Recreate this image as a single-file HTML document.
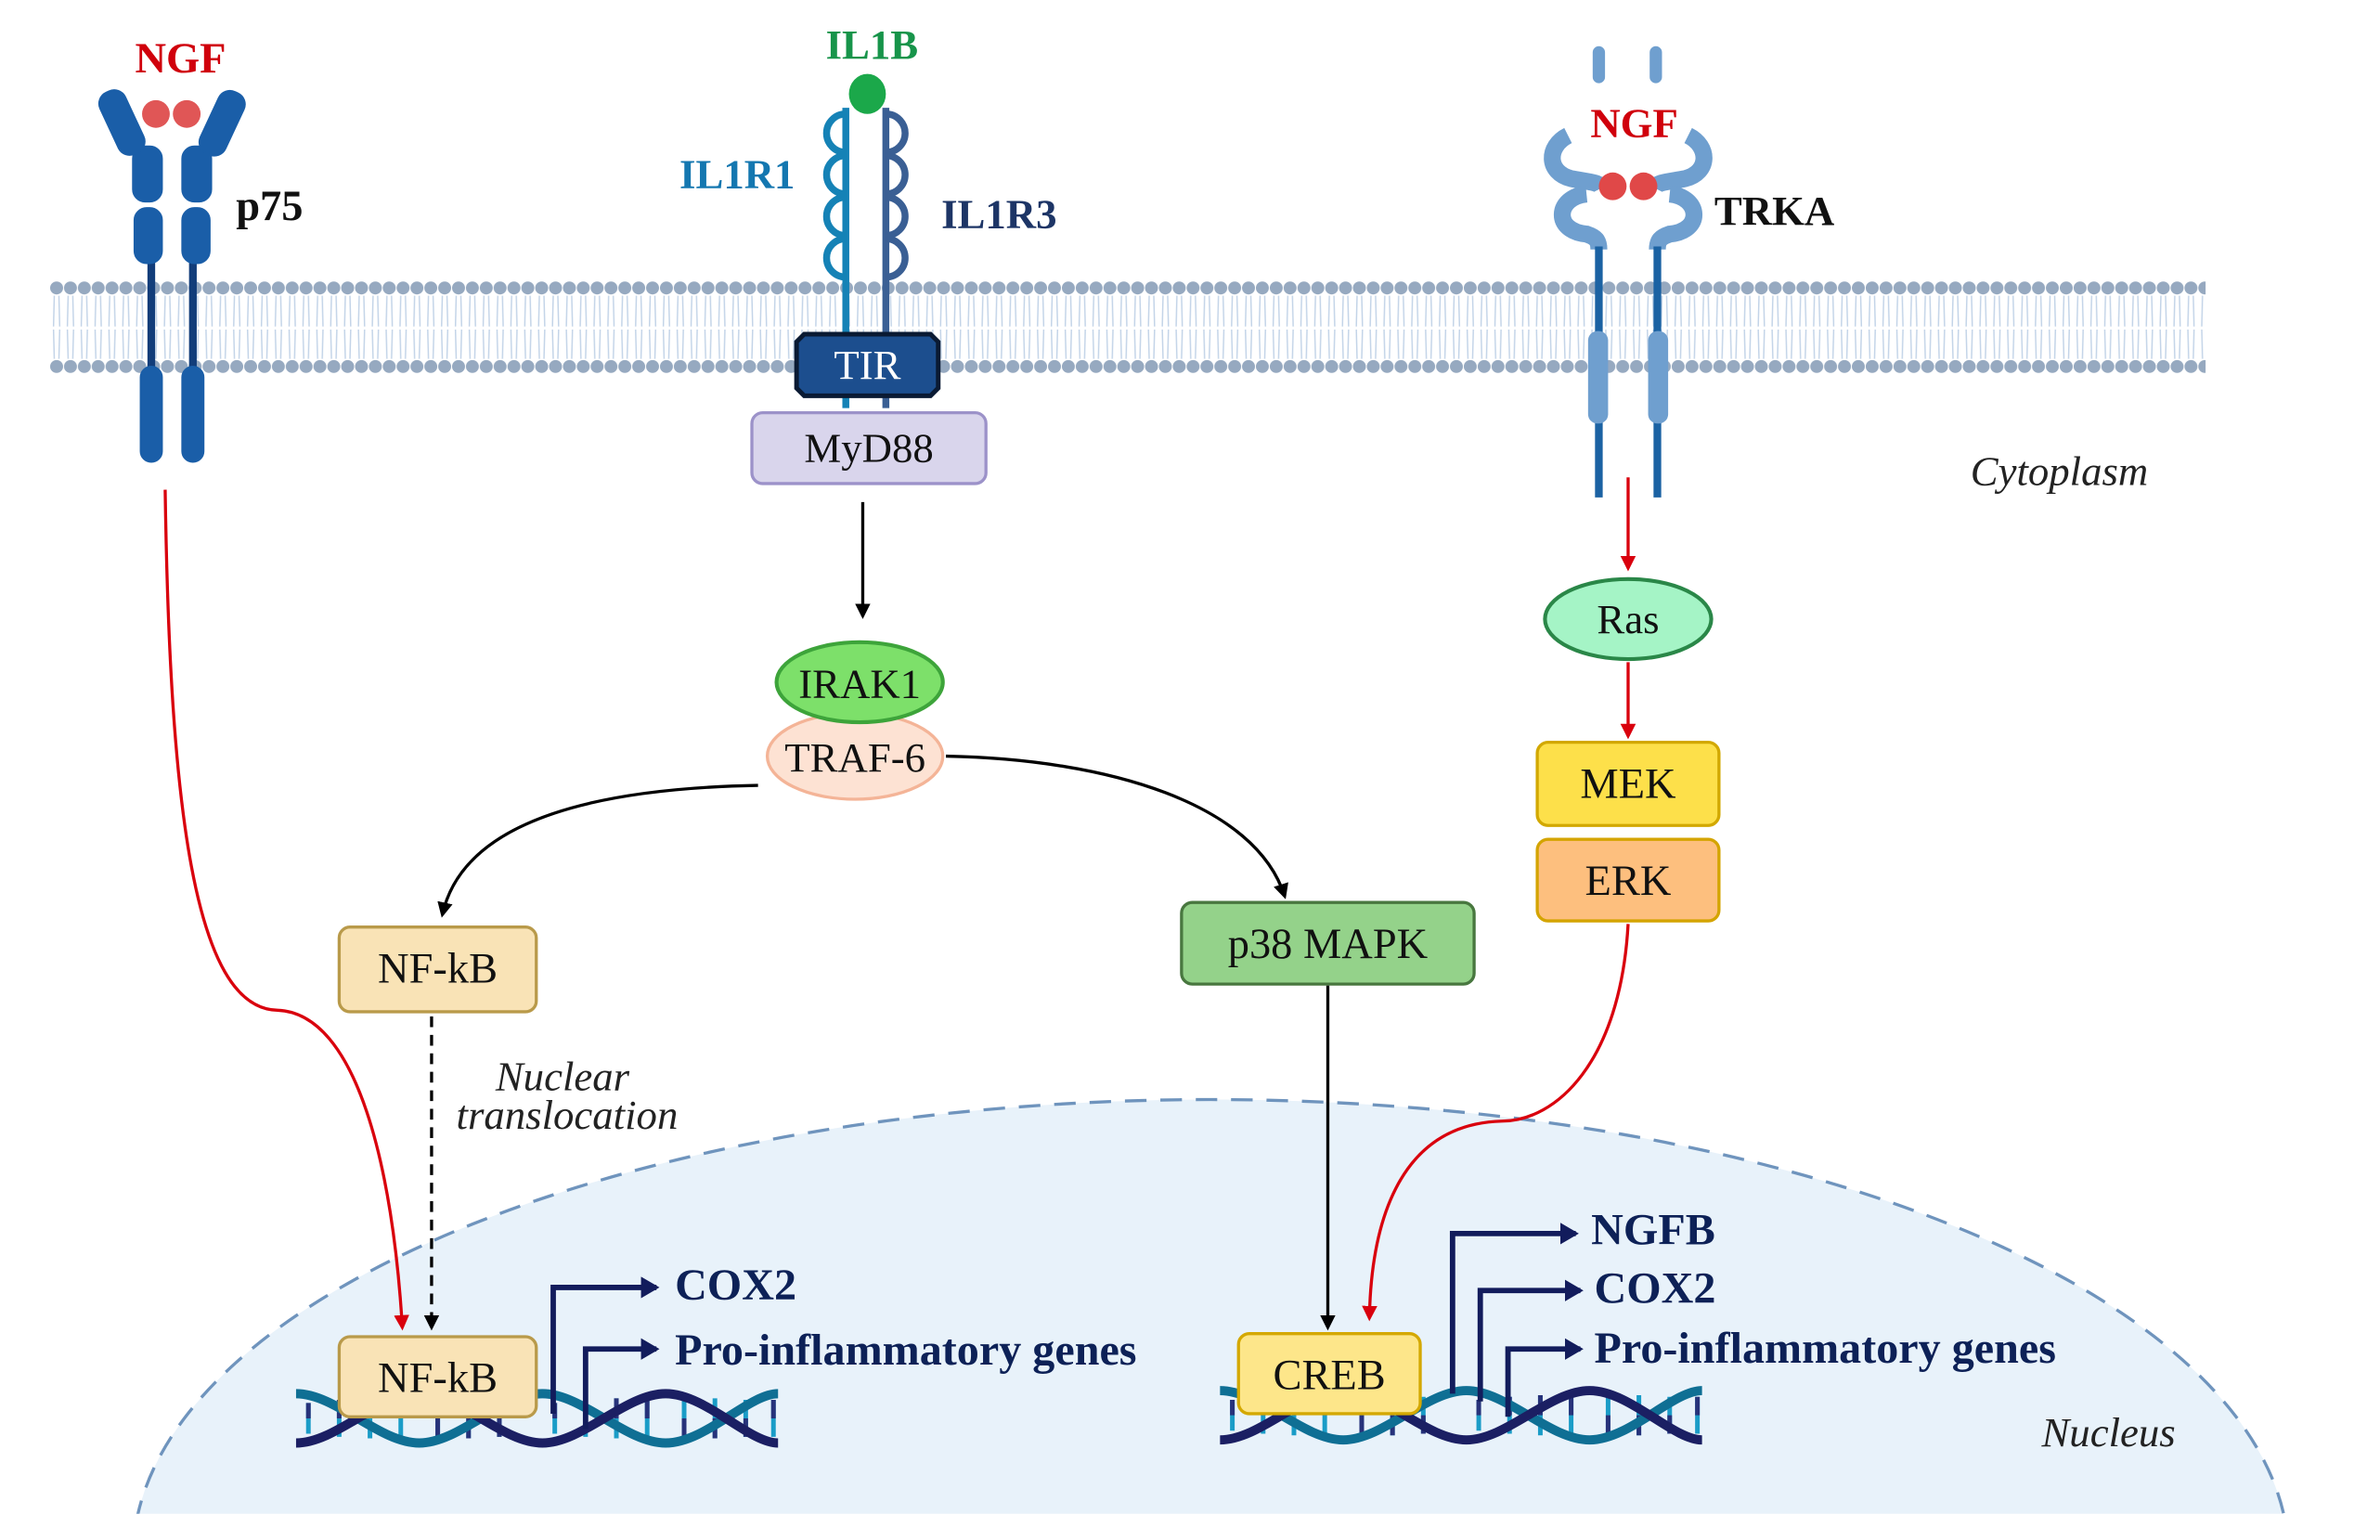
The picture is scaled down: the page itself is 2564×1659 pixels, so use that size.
<!DOCTYPE html>
<html><head><meta charset="utf-8">
<style>
html,body{margin:0;padding:0;background:#fff;width:2564px;height:1659px;overflow:hidden;}
svg{display:block;}
text{font-family:"Liberation Serif",serif;}
</style></head>
<body>
<svg width="2564" height="1659" viewBox="0 0 1545 1000" xmlns="http://www.w3.org/2000/svg">
<defs>
  <pattern id="lip" x="32" y="0" width="9" height="1000" patternUnits="userSpaceOnUse">
    <circle cx="4.5" cy="187" r="4.2" fill="#96a9c0"/>
    <circle cx="4.5" cy="238" r="4.2" fill="#96a9c0"/>
    <path d="M3,192 L2.5,212 M6,192 L6.5,212 M3,233 L2.5,214 M6,233 L6.5,214" stroke="#c3d4e8" stroke-width="0.9" fill="none"/>
  </pattern>
  <marker id="ab" markerWidth="10" markerHeight="10" refX="8" refY="5" orient="auto" markerUnits="userSpaceOnUse"><path d="M0,0 L10,5 L0,10 Z" fill="#000"/></marker>
  <marker id="ar" markerWidth="10" markerHeight="10" refX="8" refY="5" orient="auto" markerUnits="userSpaceOnUse"><path d="M0,0 L10,5 L0,10 Z" fill="#d9000d"/></marker>
  <marker id="an" markerWidth="12" markerHeight="14" refX="10" refY="7" orient="auto" markerUnits="userSpaceOnUse"><path d="M0,0 L12,7 L0,14 Z" fill="#121c5c"/></marker>
  <clipPath id="nc"><rect x="0" y="0" width="1545" height="983"/></clipPath>
  <g id="dna">
    <g stroke-width="3">
      <path d="M8,-10 V10 M28,-12 V12 M48,-13 V13 M68,-12 V12 M92,-12 V12 M112,-13 V13 M132,-12 V12 M168,-10 V10 M188,-12 V12 M208,-13 V13 M228,-12 V12 M252,-12 V12 M272,-13 V13 M292,-12 V12 M310,-12 V12" stroke="#1a9cc7"/>
      <path d="M8,-10 V0 M28,-12 V0 M48,-13 V0 M68,-12 V0 M92,0 V12 M112,0 V13 M132,0 V12 M168,-10 V0 M188,-12 V0 M208,-13 V0 M228,-12 V0 M252,0 V12 M272,0 V13 M292,0 V12 M310,-12 V0" stroke="#27327a"/>
    </g>
    <path d="M0,-16 C26,-16 54,16 80,16 C106,16 134,-16 160,-16 C186,-16 214,16 240,16 C266,16 294,-16 313,-16" stroke="#0f6f94" stroke-width="6" fill="none"/>
    <path d="M0,16 C26,16 54,-16 80,-16 C106,-16 134,16 160,16 C186,16 214,-16 240,-16 C266,-16 294,16 313,16" stroke="#1b1f63" stroke-width="6" fill="none"/>
  </g>
</defs>

<!-- Nucleus -->
<g clip-path="url(#nc)">
  <ellipse cx="786" cy="1012" rx="700" ry="298" fill="#e8f2fa" stroke="#6f94bd" stroke-width="2" stroke-dasharray="14,9"/>
</g>

<!-- Membrane -->
<rect x="32" y="180" width="1400" height="64" fill="url(#lip)"/>

<!-- p75 -->
<g fill="#1a5ea8" stroke="#1a5ea8">
  <line x1="98" y1="140" x2="98" y2="298" stroke="#123d7a" stroke-width="5"/>
  <line x1="125" y1="140" x2="125" y2="298" stroke="#123d7a" stroke-width="5"/>
  <rect x="91" y="238" width="14" height="62" rx="7"/>
  <rect x="118" y="238" width="14" height="62" rx="7"/>
  <rect x="86" y="95" width="19" height="36" rx="8"/>
  <rect x="118" y="95" width="19" height="36" rx="8"/>
  <rect x="87" y="135" width="18" height="36" rx="8"/>
  <rect x="118" y="135" width="18" height="36" rx="8"/>
  <rect x="70" y="58" width="18" height="44" rx="8" transform="rotate(-25 78 80)"/>
  <rect x="135" y="58" width="18" height="44" rx="8" transform="rotate(25 144 80)"/>
</g>
<circle cx="101" cy="74" r="9" fill="#e05656"/><circle cx="121" cy="74" r="9" fill="#e05656"/>
<text x="117" y="47" font-size="28" font-weight="bold" fill="#d0000c" text-anchor="middle">NGF</text>
<text x="153" y="143" font-size="28" font-weight="bold" fill="#111">p75</text>

<!-- IL1 receptors -->
<g fill="none" stroke-width="4.5">
  <path d="M549,70 V265" stroke="#1582b6"/>
  <path d="M549,74 a12.5,12.5 0 1 0 0,25 M549,101 a12.5,12.5 0 1 0 0,25 M549,128 a12.5,12.5 0 1 0 0,25 M549,155 a12.5,12.5 0 1 0 0,25" stroke="#1582b6"/>
  <path d="M575,70 V265" stroke="#3a5f94"/>
  <path d="M575,74 a12.5,12.5 0 1 1 0,25 M575,101 a12.5,12.5 0 1 1 0,25 M575,128 a12.5,12.5 0 1 1 0,25 M575,155 a12.5,12.5 0 1 1 0,25" stroke="#3a5f94"/>
</g>
<ellipse cx="563" cy="61" rx="12" ry="13" fill="#1ba84a"/>
<text x="566" y="38" font-size="27" font-weight="bold" fill="#17944a" text-anchor="middle">IL1B</text>
<text x="516" y="122" font-size="27" font-weight="bold" fill="#1477b0" text-anchor="end">IL1R1</text>
<text x="611" y="148" font-size="27" font-weight="bold" fill="#1d3566">IL1R3</text>
<path d="M522,217 H604 L609,222 V252 L604,257 H522 L517,252 V222 Z" fill="#1c4e8e" stroke="#0a1a33" stroke-width="3"/>
<text x="563" y="246" font-size="27" fill="#fff" text-anchor="middle">TIR</text>
<rect x="488" y="268" width="152" height="46" rx="7" fill="#d9d5ec" stroke="#9c92c9" stroke-width="2"/>
<text x="564" y="300" font-size="27" fill="#111" text-anchor="middle">MyD88</text>
<line x1="560" y1="326" x2="560" y2="400" stroke="#000" stroke-width="2" marker-end="url(#ab)"/>

<ellipse cx="555" cy="491" rx="57" ry="28" fill="#fde2d3" stroke="#f4b497" stroke-width="2"/>
<ellipse cx="558" cy="443" rx="54" ry="26" fill="#7de06a" stroke="#3da43a" stroke-width="2.5"/>
<text x="558" y="453" font-size="27" fill="#111" text-anchor="middle">IRAK1</text>
<text x="555" y="501" font-size="27" fill="#111" text-anchor="middle">TRAF-6</text>

<path d="M492,510 C380,512 300,535 287,594" fill="none" stroke="#000" stroke-width="2" marker-end="url(#ab)"/>
<path d="M614,491 C720,493 815,522 834,582" fill="none" stroke="#000" stroke-width="2" marker-end="url(#ab)"/>

<rect x="220" y="602" width="128" height="55" rx="7" fill="#f9e3b6" stroke="#b99a4a" stroke-width="2"/>
<text x="284" y="638" font-size="28" fill="#111" text-anchor="middle">NF-kB</text>
<rect x="767" y="586" width="190" height="53" rx="7" fill="#94d28a" stroke="#48773f" stroke-width="2"/>
<text x="862" y="622" font-size="28" fill="#111" text-anchor="middle">p38 MAPK</text>

<line x1="280" y1="660" x2="280" y2="862" stroke="#000" stroke-width="2" stroke-dasharray="7,5" marker-end="url(#ab)"/>
<text x="365" y="708" font-size="27" font-style="italic" fill="#222" text-anchor="middle">Nuclear</text>
<text x="368" y="733" font-size="27" font-style="italic" fill="#222" text-anchor="middle">translocation</text>

<path d="M107,318 C110,520 125,655 180,656 C232,658 255,760 261,862" fill="none" stroke="#d9000d" stroke-width="2" marker-end="url(#ar)"/>

<!-- TRKA -->
<g fill="#6f9fcf">
  <rect x="1034" y="30" width="8" height="24" rx="4"/><rect x="1071" y="30" width="8" height="24" rx="4"/>
</g>
<g fill="none" stroke="#6f9fcf" stroke-width="11">
  <path d="M1018,88 C1004,95 1004,112 1020,116 C1030,118 1038,118 1040,122"/>
  <path d="M1096,88 C1110,95 1110,112 1094,116 C1084,118 1076,118 1074,122"/>
  <path d="M1030,126 C1010,128 1008,150 1030,152 C1036,154 1038,156 1038,162"/>
  <path d="M1084,126 C1104,128 1106,150 1084,152 C1078,154 1076,156 1076,162"/>
</g>
<line x1="1038" y1="160" x2="1038" y2="323" stroke="#1b62a3" stroke-width="5"/>
<line x1="1076" y1="160" x2="1076" y2="323" stroke="#1b62a3" stroke-width="5"/>
<rect x="1031" y="215" width="13" height="60" rx="6" fill="#6f9fcf"/>
<rect x="1070" y="215" width="13" height="60" rx="6" fill="#6f9fcf"/>
<circle cx="1047" cy="121" r="9" fill="#e04848"/><circle cx="1067" cy="121" r="9" fill="#e04848"/>
<text x="1061" y="89" font-size="27" font-weight="bold" fill="#d0000c" text-anchor="middle">NGF</text>
<text x="1113" y="146" font-size="27" font-weight="bold" fill="#111">TRKA</text>
<text x="1337" y="315" font-size="27" font-style="italic" fill="#222" text-anchor="middle">Cytoplasm</text>

<line x1="1057" y1="310" x2="1057" y2="369" stroke="#d9000d" stroke-width="2" marker-end="url(#ar)"/>
<ellipse cx="1057" cy="402" rx="54" ry="26" fill="#a5f4c6" stroke="#2a8748" stroke-width="2.5"/>
<text x="1057" y="411" font-size="27" fill="#111" text-anchor="middle">Ras</text>
<line x1="1057" y1="430" x2="1057" y2="478" stroke="#d9000d" stroke-width="2" marker-end="url(#ar)"/>
<rect x="998" y="482" width="118" height="54" rx="7" fill="#fde04a" stroke="#d2a800" stroke-width="2"/>
<text x="1057" y="518" font-size="28" fill="#111" text-anchor="middle">MEK</text>
<rect x="998" y="545" width="118" height="53" rx="7" fill="#fdbf7e" stroke="#d4a400" stroke-width="2"/>
<text x="1057" y="581" font-size="28" fill="#111" text-anchor="middle">ERK</text>

<path d="M1057,600 C1052,690 1010,728 975,728 C905,730 890,800 889,856" fill="none" stroke="#d9000d" stroke-width="2" marker-end="url(#ar)"/>
<line x1="862" y1="640" x2="862" y2="862" stroke="#000" stroke-width="2" marker-end="url(#ab)"/>

<!-- DNA -->
<use href="#dna" transform="translate(192,921)"/>
<use href="#dna" transform="translate(792,919)"/>

<g fill="none" stroke="#121c5c" stroke-width="3.5">
  <path d="M359,918 V836 H426" marker-end="url(#an)"/>
  <path d="M380,928 V876 H426" marker-end="url(#an)"/>
  <path d="M943,905 V801 H1023" marker-end="url(#an)"/>
  <path d="M961,910 V838 H1026" marker-end="url(#an)"/>
  <path d="M979,920 V876 H1026" marker-end="url(#an)"/>
</g>
<rect x="220" y="868" width="128" height="52" rx="7" fill="#f9e3b6" stroke="#b99a4a" stroke-width="2"/>
<text x="284" y="904" font-size="28" fill="#111" text-anchor="middle">NF-kB</text>
<rect x="804" y="866" width="118" height="52" rx="7" fill="#fde68a" stroke="#d4a800" stroke-width="2"/>
<text x="863" y="902" font-size="28" fill="#111" text-anchor="middle">CREB</text>

<g font-size="29" font-weight="bold" fill="#0d2157">
  <text x="438" y="844">COX2</text>
  <text x="438" y="886">Pro-inflammatory genes</text>
  <text x="1033" y="808">NGFB</text>
  <text x="1035" y="846">COX2</text>
  <text x="1035" y="885">Pro-inflammatory genes</text>
</g>
<text x="1369" y="939" font-size="27" font-style="italic" fill="#222" text-anchor="middle">Nucleus</text>
</svg>
</body></html>
